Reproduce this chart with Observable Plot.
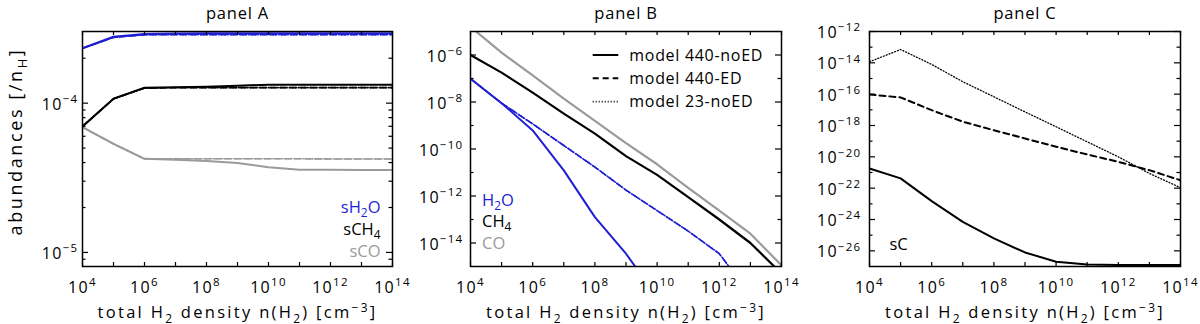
<!DOCTYPE html>
<html>
<head>
<meta charset="utf-8">
<script src="https://cdn.jsdelivr.net/npm/d3@7"></script>
<script src="https://cdn.jsdelivr.net/npm/@observablehq/plot@0.6"></script>
<style>
  body { margin: 0; background: #fff; }
  #row { display: flex; width: 1200px; height: 324px; position: relative; }
  #row svg { flex: none; }
</style>
</head>
<body>
<div id="row"></div>
<script>
// ---------------- data ----------------
const density = [1e4, 1e5, 1e6, 1e7, 1e8, 1e9, 1e10, 1e11, 1e12, 1e13, 1e14];
const xLabelTicks = [1e4, 1e6, 1e8, 1e10, 1e12, 1e14];

const models = ["model 440-noED", "model 440-ED", "model 23-noED"];

// panel A: solid ices (abundance / nH)
const aH2O_noED = [2.33e-4, 2.78e-4, 2.90e-4, 2.92e-4, 2.93e-4, 2.93e-4, 2.94e-4, 2.94e-4, 2.94e-4, 2.94e-4, 2.94e-4];
const aH2O_ED   = [2.33e-4, 2.76e-4, 2.87e-4, 2.88e-4, 2.88e-4, 2.88e-4, 2.88e-4, 2.88e-4, 2.88e-4, 2.88e-4, 2.88e-4];
const aH2O_23   = [2.33e-4, 2.76e-4, 2.87e-4, 2.88e-4, 2.88e-4, 2.88e-4, 2.88e-4, 2.88e-4, 2.88e-4, 2.88e-4, 2.88e-4];
const aCH4_noED = [6.98e-5, 1.07e-4, 1.27e-4, 1.28e-4, 1.29e-4, 1.31e-4, 1.33e-4, 1.33e-4, 1.33e-4, 1.33e-4, 1.33e-4];
const aCH4_ED   = [6.98e-5, 1.07e-4, 1.26e-4, 1.27e-4, 1.27e-4, 1.27e-4, 1.27e-4, 1.27e-4, 1.27e-4, 1.27e-4, 1.27e-4];
const aCH4_23   = [6.98e-5, 1.07e-4, 1.26e-4, 1.27e-4, 1.27e-4, 1.27e-4, 1.27e-4, 1.27e-4, 1.27e-4, 1.27e-4, 1.27e-4];
const aCO_noED  = [6.90e-5, 5.34e-5, 4.24e-5, 4.18e-5, 4.09e-5, 3.97e-5, 3.72e-5, 3.58e-5, 3.58e-5, 3.57e-5, 3.57e-5];
const aCO_ED    = [6.90e-5, 5.34e-5, 4.24e-5, 4.24e-5, 4.24e-5, 4.24e-5, 4.24e-5, 4.24e-5, 4.23e-5, 4.23e-5, 4.23e-5];
const aCO_23    = [6.90e-5, 5.34e-5, 4.24e-5, 4.24e-5, 4.24e-5, 4.24e-5, 4.24e-5, 4.24e-5, 4.23e-5, 4.23e-5, 4.23e-5];

// panel B: gas phase
const bH2O_noED = [9.8e-8, 8.9e-9, 6.2e-10, 1.23e-11, 1.26e-13, 3.5e-15, 5.0e-17];
const bH2O_ED   = [9.8e-8, 8.9e-9, 1.17e-9, 1.41e-10, 1.70e-11, 1.78e-12, 2.4e-13, 3.2e-14, 3.5e-15, 6.3e-17];
const bH2O_23   = [9.8e-8, 8.9e-9, 1.17e-9, 1.41e-10, 1.70e-11, 1.78e-12, 2.4e-13, 3.2e-14, 3.5e-15, 6.3e-17];
const bCH4_noED = [1.0e-6, 1.78e-7, 2.5e-8, 3.2e-9, 4.5e-10, 5.0e-11, 7.9e-12, 8.9e-13, 1.0e-13, 1.0e-14, 5.0e-16];
const bCO_noED  = [1.58e-5, 1.26e-6, 1.35e-7, 1.38e-8, 1.58e-9, 1.78e-10, 2.24e-11, 2.24e-12, 2.4e-13, 2.5e-14, 1.12e-15];

// panel C: solid carbon
const cC_noED = [1.8e-21, 4.2e-22, 1.5e-23, 7.1e-25, 6.2e-26, 7.9e-27, 2.0e-27, 1.35e-27, 1.26e-27, 1.26e-27, 1.26e-27];
const cC_ED   = [9.5e-17, 6.2e-17, 9.5e-18, 1.74e-18, 5.0e-19, 1.48e-19, 4.4e-20, 1.41e-20, 4.8e-21, 1.41e-21, 3.2e-22];
const cC_23   = [1.17e-14, 7.1e-14, 7.9e-15, 6.2e-16, 6.8e-17, 7.4e-18, 8.3e-19, 9.1e-20, 1.0e-20, 8.7e-22, 1.07e-22];

// tick values
const aYMajor = [1e-5, 1e-4];
const aYMinor = [9e-6, 2e-5, 3e-5, 4e-5, 5e-5, 6e-5, 7e-5, 8e-5, 9e-5, 2e-4];
const bYLabels = [1e-14, 1e-12, 1e-10, 1e-8, 1e-6];
const bYMinor = [1e-13, 1e-11, 1e-9, 1e-7];
const cYLabels = [1e-26, 1e-24, 1e-22, 1e-20, 1e-18, 1e-16, 1e-14, 1e-12];
const cYMinor = [1e-25, 1e-23, 1e-21, 1e-19, 1e-17, 1e-15, 1e-13];

// ---------------- styles ----------------
const BLUE = "#1f1fd2", GRAY = "#9a9a9a", BLACK = "#000";
const dashOf = {"model 440-noED": null, "model 440-ED": "6,4", "model 23-noED": "1,2"};
const FONT = "'Open Sans', 'Noto Sans', sans-serif";
const MT = 31, MB = 58, H = 324, W = 400;

function rows(values) { return values.map((v, i) => ({n: density[i], v})); }
function expLabel(d) {
  const e = Math.round(Math.log10(d));
  return "10^{" + (e < 0 ? "\u2212" + (-e) : e) + "}";
}

// letter spacing by kind of text
function spacingFor(s) {
  if (/^10\^\{/.test(s)) return 1.3;
  if (/^panel/.test(s)) return 0.8;
  if (/^total/.test(s)) return 2.3;
  if (/^abundances/.test(s)) return 2.6;
  if (/^model/.test(s)) return 0.7;
  return 0;
}

function richify(svg) {
  svg.querySelectorAll("text").forEach(t => {
    const s = t.textContent;
    const ls = spacingFor(s);
    if (ls) t.setAttribute("letter-spacing", ls);
    if (!/[_^]\{/.test(s)) return;
    const holder = t.closest("[font-size]");
    const fs = holder ? parseFloat(holder.getAttribute("font-size")) : 15;
    while (t.firstChild) t.removeChild(t.firstChild);
    const re = /([_^])\{([^}]*)\}/g;
    let last = 0, m, shift = 0;
    const add = (str, kind) => {
      if (!str) return;
      const ts = document.createElementNS("http://www.w3.org/2000/svg", "tspan");
      const target = kind === "^" ? -0.42 * fs : kind === "_" ? 0.28 * fs : 0;
      ts.setAttribute("dy", (target - shift).toFixed(2));
      shift = target;
      if (kind) ts.setAttribute("font-size", (0.72 * fs).toFixed(1));
      ts.textContent = str;
      t.appendChild(ts);
    };
    while ((m = re.exec(s))) { add(s.slice(last, m.index), null); add(m[2], m[1]); last = re.lastIndex; }
    add(s.slice(last), null);
  });
}

function panel(cfg) {
  const fw = W - cfg.ml - cfg.mr, fh = H - MT - MB;
  const marks = [];
  for (const s of cfg.series) {
    marks.push(Plot.line(rows(s.values), {
      x: "n", y: "v", stroke: s.color, strokeWidth: s.width,
      strokeDasharray: s.dash || undefined, clip: true
    }));
  }
  // inward ticks (IDL style) on all four sides
  marks.push(Plot.tickX(density, {x: d => d, insetTop: fh - 4, strokeWidth: 1.2}));
  marks.push(Plot.tickX(density, {x: d => d, insetBottom: fh - 4, strokeWidth: 1.2}));
  marks.push(Plot.tickY(cfg.yMajor, {y: d => d, insetRight: fw - 6, strokeWidth: 1.2}));
  marks.push(Plot.tickY(cfg.yMajor, {y: d => d, insetLeft: fw - 6, strokeWidth: 1.2}));
  marks.push(Plot.tickY(cfg.yMinor, {y: d => d, insetRight: fw - 3.5, strokeWidth: 1.2}));
  marks.push(Plot.tickY(cfg.yMinor, {y: d => d, insetLeft: fw - 3.5, strokeWidth: 1.2}));
  marks.push(Plot.frame({stroke: BLACK, strokeWidth: 1.5}));
  // tick labels
  marks.push(Plot.text(xLabelTicks, {x: d => d, frameAnchor: "bottom", dy: 21.2, text: expLabel,
    fontSize: 16, textAnchor: "middle", lineAnchor: "middle"}));
  marks.push(Plot.text(cfg.yLabels, {y: d => d, frameAnchor: "left", dx: cfg.ydx, dy: 1.5, text: expLabel,
    fontSize: 16, textAnchor: "end", lineAnchor: "middle"}));
  // titles
  marks.push(Plot.text([cfg.title], {frameAnchor: "top", dy: -17.5, fontSize: 16.5,
    textAnchor: "middle", lineAnchor: "middle"}));
  marks.push(Plot.text(["total H_{2} density n(H_{2}) [cm^{\u22123}]"], {frameAnchor: "bottom", dy: 46.7,
    fontSize: 16.5, textAnchor: "middle", lineAnchor: "middle"}));
  if (cfg.ytitle) {
    marks.push(Plot.text([cfg.ytitle], {frameAnchor: "left", dx: -66.5, dy: -7.5, rotate: -90,
      fontSize: 18, textAnchor: "middle", lineAnchor: "middle"}));
  }
  // species labels
  for (const l of cfg.labels) {
    marks.push(Plot.text([l.text], {frameAnchor: l.anchor, dx: l.dx, dy: l.dy, fill: l.color,
      fontSize: 16.5, textAnchor: l.ta, lineAnchor: "middle"}));
  }
  return Plot.plot({
    width: W, height: H,
    marginLeft: cfg.ml, marginRight: cfg.mr, marginTop: MT, marginBottom: MB,
    x: {type: "log", domain: [1e4, 1e14], axis: null},
    y: {type: "log", domain: cfg.yDomain, axis: null},
    style: {fontFamily: FONT, background: "transparent", overflow: "visible", color: "#000"},
    marks
  });
}

function seriesFor(list) {
  return list.map(([values, color, model, width]) => ({values, color, dash: dashOf[model], width}));
}

const svgA = panel({
  title: "panel A", ml: 82, mr: 8, ydx: -4, yDomain: [8.05e-6, 3.02e-4],
  yMajor: aYMajor, yMinor: aYMinor, yLabels: aYMajor,
  ytitle: "abundances [/n_{H}]",
  series: seriesFor([
    [aCO_ED, GRAY, models[1], 1.6], [aCO_23, GRAY, models[2], 1.6], [aCO_noED, GRAY, models[0], 2],
    [aCH4_ED, BLACK, models[1], 1.6], [aCH4_23, BLACK, models[2], 1.6], [aCH4_noED, BLACK, models[0], 2],
    [aH2O_ED, BLUE, models[1], 1.6], [aH2O_23, BLUE, models[2], 1.6], [aH2O_noED, BLUE, models[0], 2.2]
  ]),
  labels: [
    {text: "sH_{2}O", color: BLUE, anchor: "bottom-right", dx: -12, dy: -59, ta: "end"},
    {text: "sCH_{4}", color: BLACK, anchor: "bottom-right", dx: -12, dy: -37, ta: "end"},
    {text: "sCO", color: GRAY, anchor: "bottom-right", dx: -12, dy: -15, ta: "end"}
  ]
});

const svgB = panel({
  title: "panel B", ml: 70, mr: 19, ydx: -7, yDomain: [1e-15, 1e-5],
  yMajor: bYLabels, yMinor: bYMinor, yLabels: bYLabels,
  series: seriesFor([
    [bCO_noED, GRAY, models[0], 2.2],
    [bCH4_noED, BLACK, models[0], 2.2],
    [bH2O_ED, BLUE, models[1], 1.6], [bH2O_23, BLUE, models[2], 1.6],
    [bH2O_noED, BLUE, models[0], 2]
  ]),
  labels: [
    {text: "H_{2}O", color: BLUE, anchor: "bottom-left", dx: 11.5, dy: -66, ta: "start"},
    {text: "CH_{4}", color: BLACK, anchor: "bottom-left", dx: 11.5, dy: -45, ta: "start"},
    {text: "CO", color: GRAY, anchor: "bottom-left", dx: 11.5, dy: -23, ta: "start"}
  ]
});

const svgC = panel({
  title: "panel C", ml: 69, mr: 20, ydx: -8, yDomain: [1e-27, 1e-12],
  yMajor: cYLabels, yMinor: cYMinor, yLabels: cYLabels,
  series: seriesFor([
    [cC_23, BLACK, models[2], 1.3],
    [cC_ED, BLACK, models[1], 2],
    [cC_noED, BLACK, models[0], 2]
  ]),
  labels: [
    {text: "sC", color: BLACK, anchor: "bottom-left", dx: 20, dy: -22, ta: "start"}
  ]
});

// legend (panel B)
{
  const g = d3.select(svgB).append("g").attr("font-family", FONT).attr("font-size", 16)
    .attr("text-anchor", "start");
  models.forEach((name, i) => {
    const y = 55 + i * 23.3;
    g.append("line").attr("x1", 192.7).attr("x2", 218.3).attr("y1", y).attr("y2", y)
      .attr("stroke", "#000").attr("stroke-width", i === 2 ? 1.6 : 2)
      .attr("stroke-dasharray", dashOf[name]);
    g.append("text").attr("x", 229.3).attr("y", y).attr("dy", "0.35em")
      .attr("text-anchor", "start").text(name);
  });
}

const row = document.getElementById("row");
[svgA, svgB, svgC].forEach(s => row.appendChild(s));
[svgA, svgB, svgC].forEach(richify);
</script>
</body>
</html>
